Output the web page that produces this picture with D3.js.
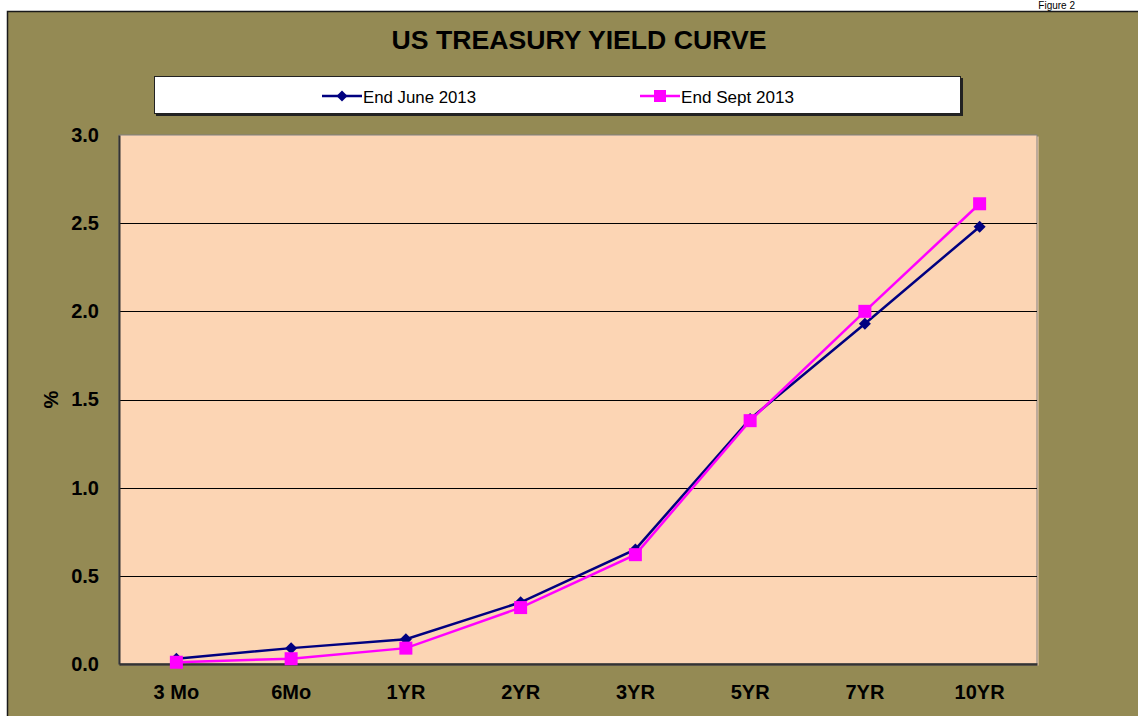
<!DOCTYPE html>
<html><head><meta charset="utf-8">
<script src="https://cdn.jsdelivr.net/npm/d3@7/dist/d3.min.js"></script>
<style>body{margin:0;background:#fff}svg{display:block}text{font-family:"Liberation Sans",Arial,sans-serif}</style>
</head><body>
<script>
const categories = ["3 Mo","6Mo","1YR","2YR","3YR","5YR","7YR","10YR"];
const june2013 = [0.03, 0.09, 0.14, 0.35, 0.65, 1.39, 1.93, 2.48];
const sept2013 = [0.01, 0.03, 0.09, 0.32, 0.62, 1.38, 2.00, 2.61];
const yTicks = [0, 0.5, 1.0, 1.5, 2.0, 2.5, 3.0];
const seriesNames = ["End June 2013", "End Sept 2013"];

const W = 1138, H = 716;
const svg = d3.select("body").append("svg").attr("width", W).attr("height", H);

// chart area
svg.append("rect").attr("x", 7.5).attr("y", 11.5).attr("width", W).attr("height", H)
  .attr("fill","#948A54").attr("stroke","#1a1a1a").attr("stroke-width",1.5);

// page label
svg.append("text").attr("x", 1075).attr("y", 9).attr("text-anchor","end")
  .style("font-size","10px").attr("fill","#000").text("Figure 2");

// title
svg.append("text").attr("x", 579).attr("y", 49).attr("text-anchor","middle")
  .style("font-size","26px").style("font-weight","bold").attr("fill","#000")
  .attr("textLength", 375).attr("lengthAdjust","spacingAndGlyphs")
  .text("US TREASURY YIELD CURVE");

const m = {l:119, r:1037, t:135, b:664};
const x = d3.scaleBand().domain(categories).range([m.l, m.r]);
const y = d3.scaleLinear().domain([0,3]).range([m.b, m.t]);

// plot area
svg.append("rect").attr("x", m.l+1.5).attr("y", m.t+1.5).attr("width", m.r-m.l).attr("height", m.b-m.t)
  .attr("fill","#FCD5B5");
svg.append("rect").attr("x", m.l).attr("y", m.t).attr("width", m.r-m.l).attr("height", m.b-m.t)
  .attr("fill","#FCD5B4").attr("stroke","#808080").attr("stroke-width",1);

// gridlines
svg.append("g").selectAll("line").data(yTicks.filter(d=>d>0 && d<3)).join("line")
  .attr("x1", m.l).attr("x2", m.r).attr("y1", d=>Math.round(y(d))+0.5).attr("y2", d=>Math.round(y(d))+0.5)
  .attr("stroke","#000").attr("stroke-width",1);

// axes
const yAxis = svg.append("g").attr("transform",`translate(${m.l},0)`)
  .call(d3.axisLeft(y).tickValues(yTicks).tickFormat(d3.format(".1f")).tickSize(0).tickPadding(20));
yAxis.attr("font-size", null).attr("font-family", null);
yAxis.select(".domain").attr("stroke","#333").attr("stroke-width",2);
yAxis.selectAll("text").style("font-size","20px").style("font-weight","bold").attr("fill","#000");

const xAxis = svg.append("g").attr("transform",`translate(0,${m.b})`)
  .call(d3.axisBottom(x).tickSize(0).tickPadding(21));
xAxis.attr("font-size", null).attr("font-family", null);
xAxis.select(".domain").attr("stroke","#333").attr("stroke-width",2.5);
xAxis.selectAll("text").style("font-size","20px").style("font-weight","bold").attr("fill","#000");

svg.append("text").attr("transform",`translate(58,${(m.t+m.b)/2}) rotate(-90)`)
  .attr("text-anchor","middle").style("font-size","20px").style("font-weight","bold").text("%");

// lines
const cx = c => x(c) + x.bandwidth()/2;
const line = d3.line().x((d,i)=>cx(categories[i])).y(d=>y(d));
const colors = ["#000080", "#FF00FF"];

svg.append("path").datum(june2013).attr("d", line).attr("fill","none")
  .attr("stroke",colors[0]).attr("stroke-width",2.5);
svg.append("g").selectAll("path").data(june2013).join("path")
  .attr("d", d3.symbol(d3.symbolSquare, 72)())
  .attr("transform",(d,i)=>`translate(${cx(categories[i])},${y(d)}) rotate(45)`)
  .attr("fill",colors[0]);

svg.append("path").datum(sept2013).attr("d", line).attr("fill","none")
  .attr("stroke",colors[1]).attr("stroke-width",2.5);
svg.append("g").selectAll("rect").data(sept2013).join("rect")
  .attr("x",(d,i)=>cx(categories[i])-6.5).attr("y",d=>y(d)-6.5)
  .attr("width",13).attr("height",13).attr("fill",colors[1]);

// legend
const lg = svg.append("g");
lg.append("rect").attr("x",156).attr("y",78).attr("width",807).attr("height",38).attr("fill","#222");
lg.append("rect").attr("x",154.5).attr("y",76.5).attr("width",806).attr("height",37)
  .attr("fill","#fff").attr("stroke","#222").attr("stroke-width",1);
const items = [{x:322, c:colors[0], n:seriesNames[0], sym:"d"}, {x:640, c:colors[1], n:seriesNames[1], sym:"s"}];
items.forEach(it=>{
  lg.append("line").attr("x1",it.x).attr("x2",it.x+40).attr("y1",96).attr("y2",96)
    .attr("stroke",it.c).attr("stroke-width",2.5);
  if(it.sym==="d"){
    lg.append("path").attr("d", d3.symbol(d3.symbolSquare, 60)())
      .attr("transform",`translate(${it.x+20},96) rotate(45)`).attr("fill",it.c);
  } else {
    lg.append("rect").attr("x",it.x+14).attr("y",90).attr("width",12).attr("height",12).attr("fill",it.c);
  }
  lg.append("text").attr("x",it.x+41).attr("y",103).style("font-size","16px")
    .attr("textLength", 113).attr("lengthAdjust","spacingAndGlyphs")
    .attr("fill","#000").text(it.n);
});
</script>
</body></html>
